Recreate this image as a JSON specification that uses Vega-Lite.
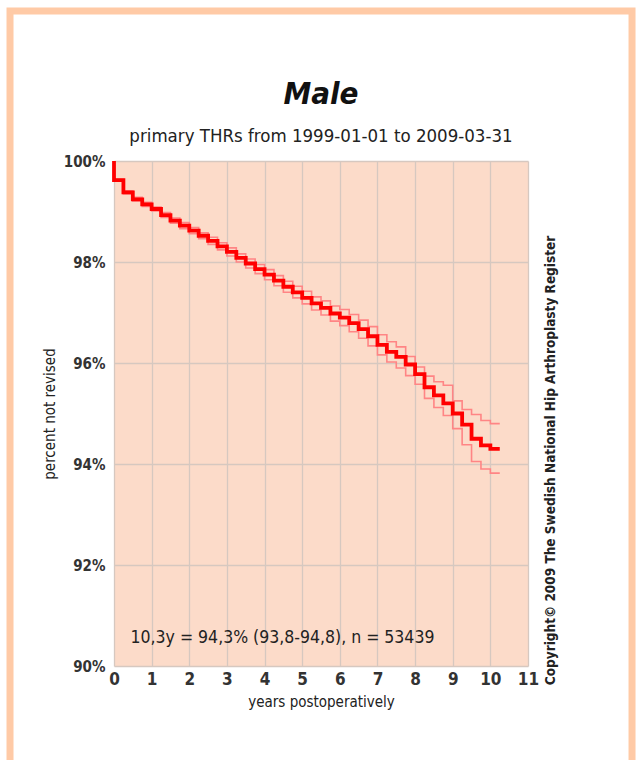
{
  "$schema": "https://vega.github.io/schema/vega-lite/v6.json",
  "width": 414,
  "height": 505,
  "autosize": {"type": "none"},
  "padding": {"left": 114, "top": 161, "right": 110, "bottom": 94},
  "background": "white",
  "title": {
    "text": "Male",
    "subtitle": "primary THRs from 1999-01-01 to 2009-03-31",
    "anchor": "middle",
    "frame": "group",
    "font": "Liberation Sans Narrow, DejaVu Sans Condensed, Liberation Sans, sans-serif",
    "fontSize": 31,
    "fontWeight": "bold",
    "fontStyle": "italic",
    "color": "#111111",
    "subtitleFont": "Liberation Sans Narrow, DejaVu Sans Condensed, Liberation Sans, sans-serif",
    "subtitleFontSize": 18.5,
    "subtitleColor": "#222222",
    "subtitlePadding": 16,
    "offset": -139
  },
  "config": {
    "view": {"fill": "#fcdbc9", "stroke": null},
    "font": "Liberation Sans Narrow, DejaVu Sans Condensed, Liberation Sans, sans-serif",
    "axisX": {"tickCount": 30},
    "axisY": {"tickCount": 30}
  },
  "datasets": {
    "km": [
      {"t": 0, "surv": 100, "lower": 100, "upper": 100},
      {"t": 0, "surv": 99.62, "lower": 99.6, "upper": 99.64},
      {"t": 0.25, "surv": 99.38, "lower": 99.35, "upper": 99.41},
      {"t": 0.5, "surv": 99.24, "lower": 99.21, "upper": 99.28},
      {"t": 0.75, "surv": 99.14, "lower": 99.1, "upper": 99.18},
      {"t": 1.0, "surv": 99.05, "lower": 99.01, "upper": 99.09},
      {"t": 1.25, "surv": 98.93, "lower": 98.88, "upper": 98.98},
      {"t": 1.5, "surv": 98.82, "lower": 98.77, "upper": 98.87},
      {"t": 1.75, "surv": 98.72, "lower": 98.66, "upper": 98.78},
      {"t": 2.0, "surv": 98.62, "lower": 98.56, "upper": 98.68},
      {"t": 2.25, "surv": 98.52, "lower": 98.46, "upper": 98.58},
      {"t": 2.5, "surv": 98.42, "lower": 98.35, "upper": 98.49},
      {"t": 2.75, "surv": 98.31, "lower": 98.24, "upper": 98.38},
      {"t": 3.0, "surv": 98.2, "lower": 98.12, "upper": 98.28},
      {"t": 3.25, "surv": 98.08, "lower": 98.0, "upper": 98.16},
      {"t": 3.5, "surv": 97.97, "lower": 97.88, "upper": 98.06},
      {"t": 3.75, "surv": 97.86, "lower": 97.77, "upper": 97.95},
      {"t": 4.0, "surv": 97.75, "lower": 97.65, "upper": 97.85},
      {"t": 4.25, "surv": 97.63, "lower": 97.53, "upper": 97.73},
      {"t": 4.5, "surv": 97.51, "lower": 97.4, "upper": 97.62},
      {"t": 4.75, "surv": 97.4, "lower": 97.29, "upper": 97.52},
      {"t": 5.0, "surv": 97.29, "lower": 97.17, "upper": 97.42},
      {"t": 5.25, "surv": 97.18, "lower": 97.05, "upper": 97.31},
      {"t": 5.5, "surv": 97.09, "lower": 96.95, "upper": 97.23},
      {"t": 5.75, "surv": 96.98, "lower": 96.83, "upper": 97.13},
      {"t": 6.0, "surv": 96.9, "lower": 96.74, "upper": 97.06},
      {"t": 6.25, "surv": 96.79, "lower": 96.62, "upper": 96.96},
      {"t": 6.5, "surv": 96.67, "lower": 96.49, "upper": 96.85},
      {"t": 6.75, "surv": 96.53, "lower": 96.34, "upper": 96.72},
      {"t": 7.0, "surv": 96.36, "lower": 96.16, "upper": 96.56},
      {"t": 7.25, "surv": 96.22, "lower": 96.02, "upper": 96.42},
      {"t": 7.5, "surv": 96.12, "lower": 95.9, "upper": 96.32},
      {"t": 7.75, "surv": 95.97, "lower": 95.75, "upper": 96.13},
      {"t": 8.0, "surv": 95.78, "lower": 95.58, "upper": 95.92},
      {"t": 8.25, "surv": 95.52, "lower": 95.3, "upper": 95.74},
      {"t": 8.5, "surv": 95.36, "lower": 95.12, "upper": 95.63},
      {"t": 8.75, "surv": 95.2, "lower": 94.96, "upper": 95.56},
      {"t": 9.0, "surv": 95.0, "lower": 94.7, "upper": 95.25},
      {"t": 9.25, "surv": 94.78, "lower": 94.38, "upper": 95.08},
      {"t": 9.5, "surv": 94.5, "lower": 94.05, "upper": 94.98},
      {"t": 9.75, "surv": 94.37, "lower": 93.9, "upper": 94.86},
      {"t": 10.0, "surv": 94.3, "lower": 93.82, "upper": 94.8},
      {"t": 10.25, "surv": 94.3, "lower": 93.82, "upper": 94.8}
    ],
    "notes": [
      {"note": "result", "label": "10,3y = 94,3% (93,8-94,8), n = 53439"}
    ],
    "credit": [
      {"note": "copyright", "label": "Copyright© 2009 The Swedish National Hip Arthroplasty Register"}
    ]
  },
  "layer": [
    {
      "data": {"name": "km"},
      "mark": {"type": "line", "interpolate": "step-after", "color": "#ff8585", "strokeWidth": 1.6},
      "encoding": {
        "x": {
          "field": "t",
          "type": "quantitative",
          "scale": {"domain": [0, 11], "nice": false, "zero": false},
          "axis": {
            "title": "years postoperatively",
            "values": [0, 1, 2, 3, 4, 5, 6, 7, 8, 9, 10, 11],
            "tickCount": 30,
            "format": "d",
            "grid": true,
            "gridColor": "#d6c8c0",
            "gridWidth": 1.3,
            "domain": false,
            "ticks": false,
            "labelFlush": false,
            "labelOverlap": false,
            "labelFontSize": 17,
            "labelFontWeight": "bold",
            "labelColor": "#333333",
            "labelPadding": 5,
            "titleFontSize": 15,
            "titleFontWeight": "normal",
            "titleColor": "#222222",
            "titlePadding": 7
          }
        },
        "y": {
          "field": "lower",
          "type": "quantitative",
          "scale": {"domain": [90, 100], "nice": false, "zero": false},
          "axis": {
            "title": "percent not revised",
            "values": [90, 92, 94, 96, 98, 100],
            "tickCount": 30,
            "format": "d",
            "labelExpr": "datum.label + '%'",
            "grid": true,
            "gridColor": "#d6c8c0",
            "gridWidth": 1.3,
            "domain": false,
            "ticks": false,
            "labelFlush": false,
            "labelOverlap": false,
            "labelFontSize": 15,
            "labelFontWeight": "bold",
            "labelColor": "#333333",
            "labelPadding": 9,
            "labelBaseline": "middle",
            "titleFontSize": 15,
            "titleFontWeight": "normal",
            "titleColor": "#222222",
            "titlePadding": 6,
            "encode": {"labels": {"update": {"dy": {"signal": "datum.value === 90 ? 10 : 0"}}}}
          }
        }
      }
    },
    {
      "data": {"name": "km"},
      "mark": {"type": "line", "interpolate": "step-after", "color": "#ff8585", "strokeWidth": 1.6},
      "encoding": {
        "x": {"field": "t", "type": "quantitative"},
        "y": {"field": "upper", "type": "quantitative"}
      }
    },
    {
      "data": {"name": "km"},
      "mark": {"type": "line", "interpolate": "step-after", "color": "#ff0000", "strokeWidth": 3.8},
      "encoding": {
        "x": {"field": "t", "type": "quantitative"},
        "y": {"field": "surv", "type": "quantitative"}
      }
    },
    {
      "data": {"name": "notes"},
      "mark": {"type": "text", "align": "left", "baseline": "middle", "fontSize": 17.5, "color": "#222222"},
      "encoding": {
        "x": {"datum": 0.44, "type": "quantitative"},
        "y": {"datum": 90.55, "type": "quantitative"},
        "text": {"field": "label", "type": "nominal"}
      }
    },
    {
      "data": {"name": "credit"},
      "mark": {"type": "text", "align": "center", "baseline": "middle", "angle": 270, "fontSize": 13.5, "fontWeight": "bold", "color": "#222222"},
      "encoding": {
        "x": {"datum": 11.61, "type": "quantitative"},
        "y": {"datum": 94.07, "type": "quantitative"},
        "text": {"field": "label", "type": "nominal"}
      }
    },
    {
      "data": {"name": "credit"},
      "mark": {"type": "rect", "filled": false, "stroke": "#ffcaa6", "strokeWidth": 7},
      "encoding": {
        "x": {"datum": -2.763, "type": "quantitative"},
        "x2": {"datum": 13.764},
        "y": {"datum": 102.97, "type": "quantitative"},
        "y2": {"datum": 85}
      }
    }
  ]
}
